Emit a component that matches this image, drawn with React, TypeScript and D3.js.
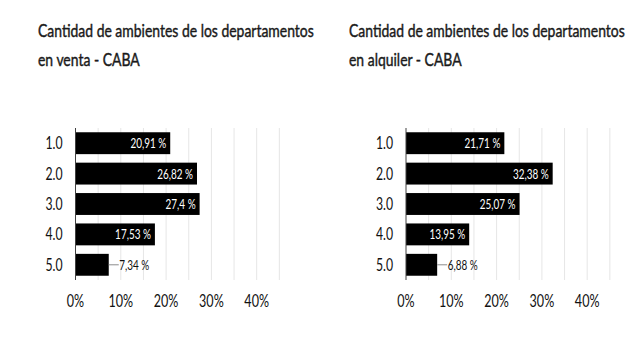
import React from "react";
import * as d3 from "d3";

const categories = ["1.0", "2.0", "3.0", "4.0", "5.0"];
const ventaValues = [20.91, 26.82, 27.4, 17.53, 7.34];
const alquilerValues = [21.71, 32.38, 25.07, 13.95, 6.88];
const ventaLabels = ["20,91 %", "26,82 %", "27,4 %", "17,53 %", "7,34 %"];
const alquilerLabels = ["21,71 %", "32,38 %", "25,07 %", "13,95 %", "6,88 %"];
const ventaTitle = ["Cantidad de ambientes de los departamentos", "en venta - CABA"];
const alquilerTitle = ["Cantidad de ambientes de los departamentos", "en alquiler - CABA"];
const xTicks = [0, 10, 20, 30, 40];
const gridTicks = [5, 10, 15, 20, 25, 30, 35, 40, 45];

const FONT = "Lato, 'Open Sans', sans-serif";

function T({ x, y, anchor = "start", size, sx = 0.78, fill = "#111", weight = 400, stroke, children }: any) {
  return (
    <text
      transform={`translate(${x},${y}) scale(${sx},1)`}
      textAnchor={anchor}
      fontSize={size}
      fill={fill}
      fontWeight={weight}
      fontFamily={FONT}
      stroke={stroke ? fill : "none"}
      strokeWidth={stroke || 0}
    >
      {children}
    </text>
  );
}

function Panel({ offsetX, titleX, values, labels, title }: any) {
  const axisX = 75.5;
  const x = d3.scaleLinear().domain([0, 45]).range([axisX, axisX + 4.53 * 45]);
  const y = d3.scaleBand<string>().domain(categories).range([128, 280]).paddingInner(0.28).paddingOuter(0.14);
  const bh = y.bandwidth();
  return (
    <g>
      <T x={titleX} y={37} size={18} sx={0.775} stroke={0.45} fill="#1a1a1a">{title[0]}</T>
      <T x={titleX} y={66} size={18} sx={0.775} stroke={0.45} fill="#1a1a1a">{title[1]}</T>
      <g transform={`translate(${offsetX},0)`}>
        {gridTicks.map((t) => (
          <line key={t} x1={x(t)} x2={x(t)} y1={128} y2={280} stroke="#e6e6e6" strokeWidth={1} />
        ))}
        {categories.map((c, i) => {
          const v = values[i];
          const yc = (y(c) as number) + bh / 2;
          const inside = x(v) - x(0) > 45;
          return (
            <g key={c}>
              <rect x={x(0)} y={y(c)} width={x(v) - x(0)} height={bh} fill="#000" />
              {inside ? (
                <T x={x(v) - 4} y={yc + 5} anchor="end" size={14} sx={0.71} fill="#fff">{labels[i]}</T>
              ) : (
                <>
                  <line x1={x(v)} x2={x(v) + 10} y1={yc} y2={yc} stroke="#8c8c8c" strokeWidth={1} />
                  <T x={x(v) + 10.5} y={yc + 5} size={14} sx={0.71} fill="#111">{labels[i]}</T>
                </>
              )}
              <T x={62.5} y={yc + 6} anchor="end" size={17} sx={0.72}>{c}</T>
            </g>
          );
        })}
        <line x1={axisX} x2={axisX} y1={128} y2={280} stroke="#404040" strokeWidth={1} />
        {xTicks.map((t) => (
          <T key={t} x={x(t)} y={306.5} anchor="middle" size={17} sx={0.74}>{`${t}%`}</T>
        ))}
      </g>
    </g>
  );
}

export default function App() {
  return (
    <svg width={640} height={338} style={{ position: "absolute", left: 0, top: 0, background: "#fff" }}>
      <rect width={640} height={338} fill="#fff" />
      <Panel offsetX={0} titleX={38} values={ventaValues} labels={ventaLabels} title={ventaTitle} />
      <Panel offsetX={330.5} titleX={349} values={alquilerValues} labels={alquilerLabels} title={alquilerTitle} />
    </svg>
  );
}
